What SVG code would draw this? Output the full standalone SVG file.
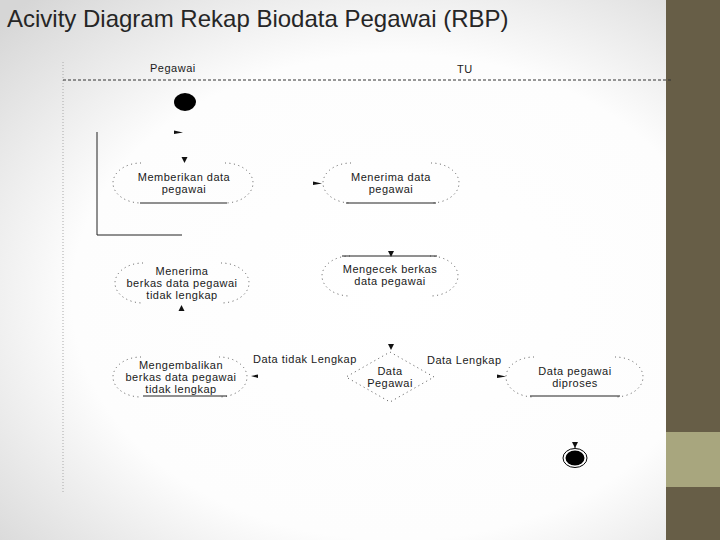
<svg xmlns="http://www.w3.org/2000/svg" width="720" height="540" viewBox="0 0 720 540">
<defs>
<radialGradient id="bg" cx="0.55" cy="0.55" r="0.75">
<stop offset="0" stop-color="#ffffff"/>
<stop offset="0.6" stop-color="#fdfdfd"/>
<stop offset="1" stop-color="#d6d6d6"/>
</radialGradient>
<style>
.t{font-family:"Liberation Sans",Arial,sans-serif;font-size:11px;fill:#1a1a1a;letter-spacing:0.5px}
.c{text-anchor:middle}
.dot{fill:none;stroke:#555;stroke-width:1;stroke-dasharray:1 3.5}
.sol{fill:none;stroke:#222;stroke-width:1}
.ah{fill:#111}
</style>
</defs>
<rect x="0" y="0" width="720" height="540" fill="url(#bg)"/>
<rect x="666" y="0" width="54" height="540" fill="#675e47"/>
<rect x="666" y="432" width="54" height="55" fill="#a8a67e"/>
<text x="7" y="27" font-family="'Liberation Sans',Arial,sans-serif" font-size="24" fill="#262626">Acivity Diagram Rekap Biodata Pegawai (RBP)</text>

<g id="swimlanes">
<line x1="63" y1="62" x2="63" y2="493" stroke="#aaa" stroke-width="1" stroke-dasharray="1 2"/>
<line x1="63" y1="80" x2="673" y2="80" stroke="#333" stroke-width="1" stroke-dasharray="3 2"/>
<text class="t" x="150" y="72">Pegawai</text>
<text class="t" x="457" y="73">TU</text>
</g>

<g id="start">
<ellipse cx="185" cy="102" rx="11" ry="9" fill="#000"/>
</g>

<g id="memberikan">
<path class="dot" d="M141,163 A28,20 0 0 0 141,203 M225,163 A28,20 0 0 1 225,203"/>
<line class="sol" x1="140" y1="203" x2="227" y2="203"/>
<text class="t c" x="184" y="181">Memberikan data</text>
<text class="t c" x="184" y="193">pegawai</text>
</g>

<g id="menerima-data">
<path class="dot" d="M351,163 A28,20 0 0 0 351,203 M431,163 A28,20 0 0 1 431,203"/>
<line class="sol" x1="346" y1="203" x2="436" y2="203"/>
<text class="t c" x="391" y="181">Menerima data</text>
<text class="t c" x="391" y="193">pegawai</text>
</g>

<g id="mengecek">
<path class="dot" d="M350,256 A28,20 0 0 0 350,296 M430,256 A28,20 0 0 1 430,296"/>
<line class="sol" x1="342" y1="256" x2="437" y2="256"/>
<text class="t c" x="390" y="273">Mengecek berkas</text>
<text class="t c" x="390" y="285">data pegawai</text>
</g>

<g id="menerima-berkas">
<path class="dot" d="M143,263 A28,20 0 0 0 143,303 M221,263 A28,20 0 0 1 221,303"/>
<text class="t c" x="182" y="275">Menerima</text>
<text class="t c" x="182" y="287">berkas data pegawai</text>
<text class="t c" x="182" y="299">tidak lengkap</text>
</g>

<g id="mengembalikan">
<path class="dot" d="M141,357 A28,20 0 0 0 141,397 M219,357 A28,20 0 0 1 219,397"/>
<line class="sol" x1="143" y1="396" x2="227" y2="396"/>
<text class="t c" x="181" y="369">Mengembalikan</text>
<text class="t c" x="181" y="381">berkas data pegawai</text>
<text class="t c" x="181" y="393">tidak lengkap</text>
</g>

<g id="decision">
<polygon class="dot" points="390,352 434,377 390,402 346,377"/>
<text class="t c" x="390" y="375">Data</text>
<text class="t c" x="390" y="387">Pegawai</text>
</g>

<g id="diproses">
<path class="dot" d="M534,357 A28,20 0 0 0 534,397 M615,357 A28,20 0 0 1 615,397"/>
<line class="sol" x1="530" y1="396" x2="620" y2="396"/>
<text class="t c" x="575" y="375">Data pegawai</text>
<text class="t c" x="575" y="387">diproses</text>
</g>

<g id="end">
<ellipse cx="575" cy="458" rx="12" ry="9.5" fill="#fff" stroke="#000" stroke-width="1"/>
<ellipse cx="575" cy="458" rx="9.5" ry="7.5" fill="#000"/>
</g>

<g id="connectors">
<polyline class="sol" points="182,235 97,235 97,132"/>
<polygon class="ah" points="174,130.5 183,132.5 174,134"/>
<polygon class="ah" points="181.5,157 187.5,157 184.5,163"/>
<polygon class="ah" points="313,181.5 322,183.5 313,185"/>
<polygon class="ah" points="388,251 394,251 391,257"/>
<polygon class="ah" points="178.5,311 184.5,311 181.5,305"/>
<polygon class="ah" points="388,344 394,344 391,350"/>
<polygon class="ah" points="258,374.5 251,376 258,378"/>
<polygon class="ah" points="497,374.5 506,376.5 497,378"/>
<polygon class="ah" points="572,442 578,442 575,448"/>
<line class="sol" x1="575" y1="446" x2="575" y2="449"/>
<text class="t" x="253" y="363">Data tidak Lengkap</text>
<text class="t" x="427" y="364">Data Lengkap</text>
</g>
</svg>
